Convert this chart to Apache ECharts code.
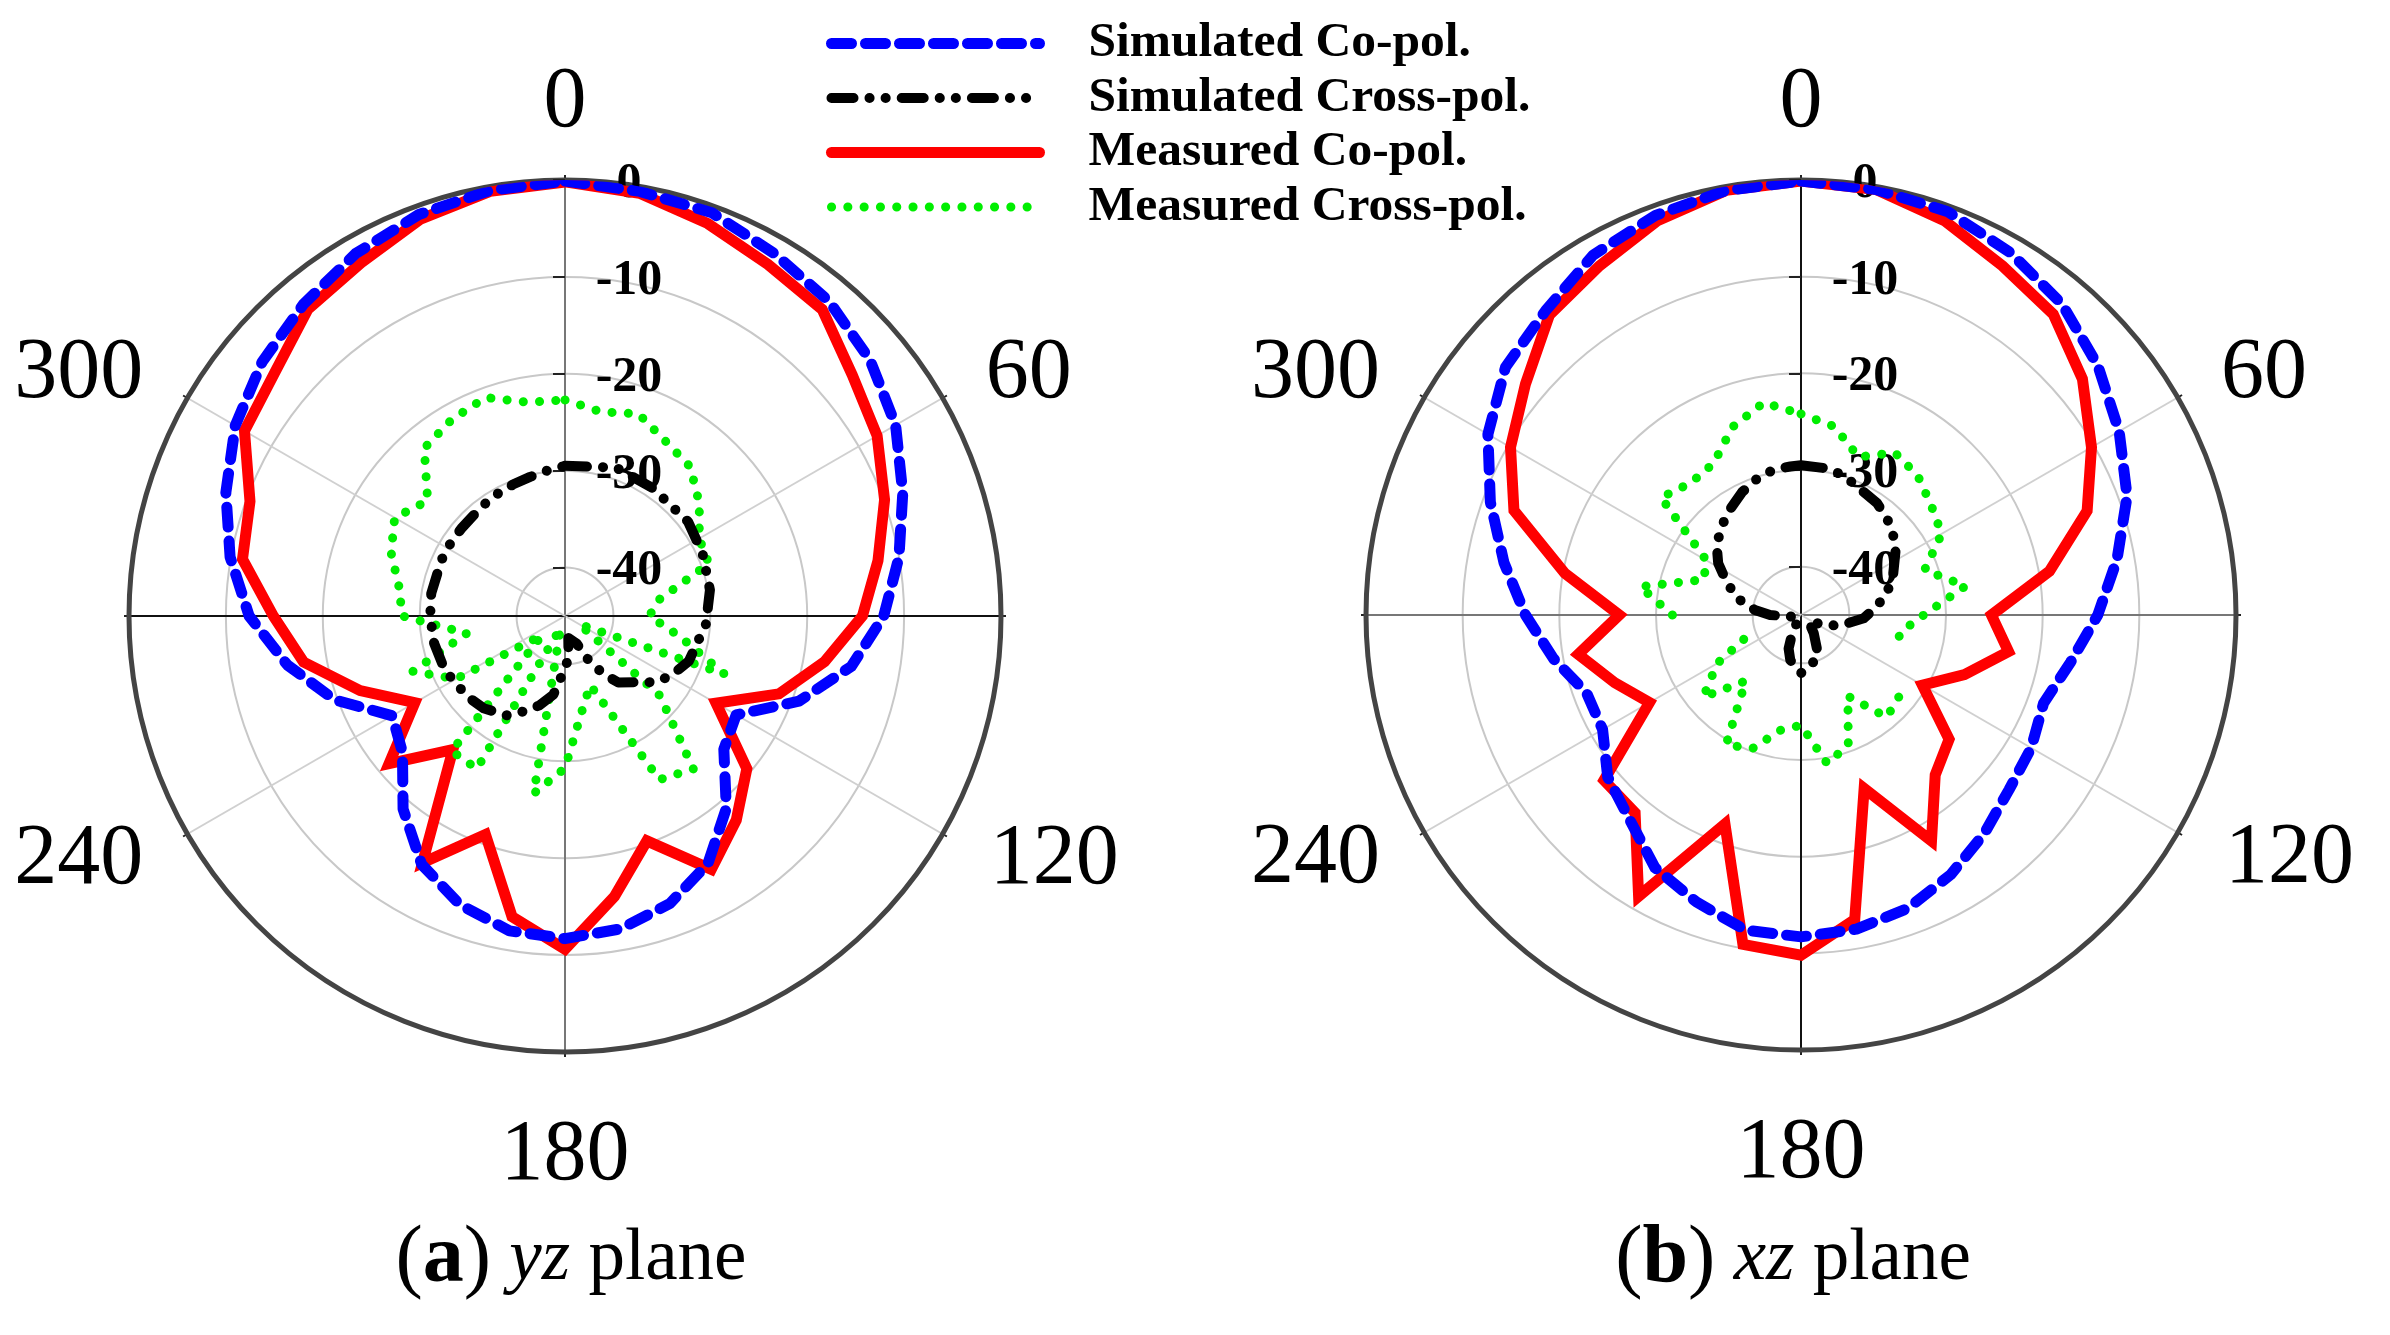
<!DOCTYPE html>
<html>
<head>
    <meta charset="UTF-8">
    <title>Radiation patterns</title>
    <script src="https://cdn.jsdelivr.net/npm/echarts@6/dist/echarts.min.js"></script>
    <style>
        html, body { margin: 0; padding: 0; background: #fff; }
        #main { width: 2390px; height: 1335px; }
    </style>
</head>
<body>
    <div id="main"></div>
    <script type="text/javascript">
        var legendNames = ['Simulated Co-pol.', 'Simulated Cross-pol.', 'Measured Co-pol.', 'Measured Cross-pol.'];
        var radialTicks = [-40, -30, -20, -10, 0];
        var angleTicks = [0, 60, 90, 120, 180, 240, 270, 300];
        var angleLabels = [0, 60, 120, 180, 240, 300];

        // measured and simulated co-pol, cross-pol measured: one value every 10 degrees from 0
        var angles10 = [0, 10, 20, 30, 40, 50, 60, 70, 80, 90, 100, 110, 120, 130, 140, 150, 160, 170,
            180, 190, 200, 210, 220, 230, 240, 250, 260, 270, 280, 290, 300, 310, 320, 330, 340, 350];

        // yz plane
        var yzMeasCo = [-0.2, -0.7, -1.9, -3.1, -3.7, -6.3, -7.8, -9.9, -12.2, -14.3, -17.8, -21.5, -27, -20.5, -17.5, -14.8, -20.3, -15.6,
            -10.6, -13.5, -21, -15.6, -27, -21.3, -27.1, -22.5, -17.6, -14.9, -11.2, -10.4, -6.8, -5.9, -3.7, -2.9, -1.4, -0.5];
        var yzSimCo = [-0.1, -0.5, -0.7, -1.8, -2.6, -3.9, -5.6, -7.9, -10, -12.1, -15, -19.3, -24.6, -23.6, -19.1, -15.5, -13.4, -12.2,
            -11.7, -12, -13.3, -15.4, -19, -23.1, -24.4, -19.7, -15.9, -12.4, -9.9, -7.75, -5.7, -4.2, -3, -1.8, -0.9, -0.4];
        var yzMeasCross = [-22.7, -23.6, -22.8, -24.2, -24.9, -26.9, -29, -29.2, -35.1, -36.3, -33, -27.5, -43.3, -32.2, -24.4, -25.5, -37.4, -35,
            -29.3, -26.4, -43.7, -26.8, -26.8, -41.9, -32, -28.3, -34.7, -28.2, -27.6, -25.9, -24.7, -26.5, -22.4, -21.6, -21, -22.6];
        var yzSimCrossAngles = [0, 19, 34.3, 52.6, 65.5, 79.8, 86, 93, 110, 119, 126, 141.3, 146.7, 152, 157, 171.5, 175, 179, 188.4, 196, 203.9, 210.5,
            221.5, 229.3, 239, 246.7, 258.3, 264.7, 271.4, 279.6, 294.4, 302.3, 310.3, 322.7, 330.8, 338.6, 345.9, 354.2];
        var yzSimCross = [-29.5, -28.8, -29, -29, -29.4, -29.8, -30.2, -30.4, -31.4, -32.4, -33.4, -36.2, -37.9, -39.9, -41.9, -42.7, -40.8, -39.8, -36.8, -35.4, -34.2, -33.1,
            -32.3, -32, -31.7, -31.4, -31.2, -31.2, -31.1, -31, -31, -31, -31, -30.8, -30.6, -30.4, -30.2, -29.8];

        // xz plane
        var xzMeasCo = [-0.1, -0.3, -1.6, -3.3, -4.4, -7, -10.3, -13.5, -18.9, -25.3, -23.2, -27, -30.5, -25, -23.4, -18, -25.9, -13,
            -9.8, -10.4, -22, -11.4, -18.3, -18.4, -26.9, -24.5, -21.6, -26.2, -20.2, -13.4, -10.3, -7.8, -4.5, -3.3, -1.6, -0.4];
        var xzSimCo = [-0.1, -0.3, -0.6, -1.7, -3, -4.9, -7, -9.1, -11.8, -14.3, -16.7, -18.3, -17.5, -16.9, -15.5, -14, -12.7, -12,
            -11.7, -11.9, -13.4, -14.8, -17.4, -18.9, -21.3, -21.4, -19, -16.5, -13.8, -10.8, -7.6, -5.1, -3.9, -2, -1, -0.4];
        var xzMeasCross = [-24.2, -25.2, -27.6, -25.6, -26.2, -27.4, -28.2, -31.4, -27.7, -32.3, -34.6, -34.5, null, -31.8, -31.2, -35.3, -30.7, -29.4,
            -33.6, -32.9, -30.3, -29.5, -36.1, -31.8, -35, -39.4, null, -31.7, -28.1, -34.3, -33.7, -26.1, -27.2, -26.9, -24.3, -22.7];
        var xzSimCrossAngles = [0, 10, 17, 34.2, 42.4, 49.2, 55.4, 67.4, 73.6, 83, 93, 105, 113, 129, 145, 157, 173.8, 180, 193.3, 200.3, 205, 220,
            270, 276.2, 284.4, 293.2, 302, 309.5, 316.5, 324, 334.4, 342, 349.3, 355.9];
        var xzSimCross = [-29.5, -29.6, -29.9, -31, -31.7, -32.4, -33.1, -34.7, -35.6, -37, -38.5, -40.8, -42.3, -44, -42.7, -40.4, -39.3, -39, -40.2, -41.3, -42.8, -44.7,
            -41.8, -40.2, -38.3, -36.7, -34.9, -33.7, -32.9, -32, -30.9, -30.2, -29.7, -29.6];

        var serif = 'Liberation Serif';

        // pairs for a polar line, last point repeated at 360 so the curve closes
        function closed(vals, angs) {
            var pts = vals.map(function (v, i) { return [v, angs[i]]; });
            pts.push([vals[0], 360]);
            return pts;
        }

        function radiusAxis(i) {
            return {
                polarIndex: i, type: 'value', min: -45, max: 0,
                axisLine: { show: false },
                axisTick: { show: true, length: 12, customValues: radialTicks, lineStyle: { color: '#222', width: 2 } },
                splitLine: { show: true, lineStyle: { color: '#c8c8c8', width: 2 } },
                axisLabel: {
                    // negative margin puts the labels on the right of the vertical axis
                    margin: -64, align: 'center', customValues: radialTicks, color: '#000',
                    formatter: function (v) {
                        return '{db|' + v + '}';
                    },
                    rich: {
                        db: { fontFamily: serif, fontWeight: 'bold', fontSize: 50, padding: [8, 0, 0, 0] }
                    }
                }
            };
        }

        function angleLabelStyle(pad) {
            return { fontFamily: serif, fontSize: 86, padding: pad };
        }

        function angleAxis(i, spokeColors) {
            return {
                polarIndex: i, type: 'value', min: 0, max: 360, startAngle: 90, clockwise: true,
                axisLine: { show: true, lineStyle: { color: '#444444', width: 5 } },
                axisTick: { show: true, length: 5, customValues: angleTicks, lineStyle: { color: '#222', width: 2 } },
                splitLine: { show: true, lineStyle: { color: spokeColors, width: 2 } },
                axisLabel: {
                    margin: -39, customValues: angleLabels, color: '#000',
                    formatter: function (v) {
                        return '{a' + v + '|' + v + '}';
                    },
                    rich: {
                        a0: angleLabelStyle([0, 0, 73, 0]),
                        a60: angleLabelStyle([0, 0, 0, 77]),
                        a120: angleLabelStyle([3, 0, 0, 81]),
                        a180: angleLabelStyle([100, 0, 0, 0]),
                        a240: angleLabelStyle([3, 78, 0, 0]),
                        a300: angleLabelStyle([0, 78, 0, 0])
                    }
                }
            };
        }

        function panelSeries(i, measCo, simCo, measCross, simCross, simCrossAngles) {
            var base = { type: 'line', coordinateSystem: 'polar', polarIndex: i, symbol: 'none', clip: false, silent: true };
            return [
                Object.assign({}, base, {
                    name: legendNames[2], data: closed(measCo, angles10), itemStyle: { color: '#ff0000' },
                    lineStyle: { color: '#ff0000', width: 11, cap: 'round', join: 'miter' }
                }),
                Object.assign({}, base, {
                    name: legendNames[0], data: closed(simCo, angles10), itemStyle: { color: '#0000ff' },
                    lineStyle: { color: '#0000ff', width: 11, type: [20, 14], cap: 'round', join: 'round' }
                }),
                Object.assign({}, base, {
                    name: legendNames[3], data: closed(measCross, angles10), itemStyle: { color: '#00ee00' },
                    lineStyle: { color: '#00ee00', width: 9, type: [0.1, 16.2], cap: 'round', join: 'round' }
                }),
                Object.assign({}, base, {
                    name: legendNames[1], data: closed(simCross, simCrossAngles), itemStyle: { color: '#000000' },
                    lineStyle: { color: '#000000', width: 10, type: [22, 16, 0.1, 16, 0.1, 16], cap: 'round', join: 'round' }
                })
            ];
        }

        function captionRich() {
            return {
                p: { fontFamily: serif, fontSize: 82, fontWeight: 'normal', color: '#000' },
                b: { fontFamily: serif, fontSize: 82, fontWeight: 'bold', color: '#000' },
                n: { fontFamily: serif, fontSize: 73, fontWeight: 'normal', color: '#000' },
                i: { fontFamily: serif, fontSize: 73, fontWeight: 'normal', fontStyle: 'italic', color: '#000' }
            };
        }

        var myChart = echarts.init(document.getElementById('main'));
        myChart.setOption({
            animation: false,
            backgroundColor: '#ffffff',
            polar: [
                { center: [565, 616], radius: [0, 436] },
                { center: [1801, 615], radius: [0, 435] }
            ],
            radiusAxis: [radiusAxis(0), radiusAxis(1)],
            angleAxis: [
                angleAxis(0, ['#777777', '#d0d0d0', '#111111', '#d0d0d0', '#777777', '#d0d0d0', '#111111', '#d0d0d0']),
                angleAxis(1, ['#111111', '#d0d0d0', '#777777', '#d0d0d0', '#111111', '#d0d0d0', '#777777', '#d0d0d0'])
            ],
            legend: {
                orient: 'vertical', left: 826, top: 18.5, padding: 0, itemWidth: 208, itemHeight: 10, itemGap: 4.5,
                data: legendNames, selectedMode: false,
                itemStyle: { opacity: 0 },
                lineStyle: { width: 'inherit' },
                textStyle: { fontFamily: serif, fontWeight: 'bold', fontSize: 49.5, color: '#000', padding: [5, 0, 0, 44] }
            },
            title: [
                { text: '{p|(}{b|a}{p|)}{n|\u00a0}{i|yz}{n|\u00a0plane}', left: 566, top: 1214, textAlign: 'center',
                  textStyle: { rich: captionRich() } },
                { text: '{p|(}{b|b}{p|)}{n|\u00a0}{i|xz}{n|\u00a0plane}', left: 1788, top: 1214, textAlign: 'center',
                  textStyle: { rich: captionRich() } }
            ],
            series: panelSeries(0, yzMeasCo, yzSimCo, yzMeasCross, yzSimCross, yzSimCrossAngles)
                .concat(panelSeries(1, xzMeasCo, xzSimCo, xzMeasCross, xzSimCross, xzSimCrossAngles))
        });
    </script>
</body>
</html>
